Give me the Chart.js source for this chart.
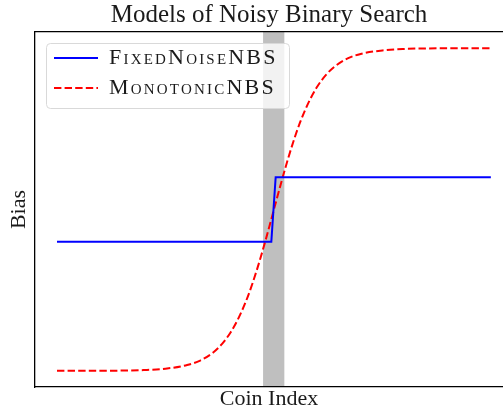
<!DOCTYPE html>
<html>
<head>
<meta charset="utf-8">
<script src="https://cdn.jsdelivr.net/npm/chart.js@4"></script>
<style>
  body { margin: 0; background: #fff; }
  canvas { display: block; }
</style>
</head>
<body>
<canvas id="nbs" width="503" height="410"></canvas>
<script>
// coin index / bias
const coinIdx = [0, 5, 10, 15, 20, 25, 30, 33, 36, 38, 40, 42, 44, 46, 48, 50,
                 52, 54, 56, 58, 60, 62, 64, 67, 70, 75, 80, 85, 90, 95, 100];
const monotonicBias = [0.0, 0.0001, 0.0003, 0.0009, 0.0025, 0.0067, 0.018, 0.032, 0.057, 0.083, 0.119, 0.168, 0.231, 0.31, 0.401, 0.5,
                       0.599, 0.69, 0.769, 0.832, 0.881, 0.917, 0.943, 0.968, 0.982, 0.993, 0.9975, 0.9991, 0.9997, 0.9999, 1.0];
const fixedIdx = [0, 49.4, 50.4, 100];
const fixedBias = [0.4, 0.4, 0.6, 0.6];
const noiseBand = [47.5, 52.4];
const seriesNames = ['FixedNoiseNBS', 'MonotonicNBS'];

const serif = "'Liberation Serif', 'DejaVu Serif', serif";
Chart.defaults.color = '#1a1a1a';

// grey band + legend frame, painted before the legend and lines
const bandPlugin = {
    id: 'bandPlugin',
    afterLayout(chart) {
        let a = chart.chartArea;
        let lg = chart.legend;
        lg.left = a.left + 11;
        lg.top = a.top + 7;
        if (!lg._spaced) {
            // small caps in the legend are set a bit wider
            let orig = lg.draw;
            lg.draw = function() {
                chart.ctx.letterSpacing = '2.2px';
                orig.apply(this, arguments);
                chart.ctx.letterSpacing = '0px';
            };
            lg._spaced = true;
        }
    },
    beforeDraw(chart) {
        let ctx = chart.ctx;
        let a = chart.chartArea;
        let xs = chart.scales.x;
        let x0 = xs.getPixelForValue(noiseBand[0]);
        let x1 = xs.getPixelForValue(noiseBand[1]);
        ctx.save();
        ctx.fillStyle = '#bfbfbf';
        ctx.fillRect(x0, a.top, x1 - x0, a.bottom - a.top);

        let bx = a.left + 11.5, by = a.top + 11.5, bw = 243, bh = 65, r = 4;
        ctx.beginPath();
        ctx.moveTo(bx + r, by);
        ctx.arcTo(bx + bw, by, bx + bw, by + bh, r);
        ctx.arcTo(bx + bw, by + bh, bx, by + bh, r);
        ctx.arcTo(bx, by + bh, bx, by, r);
        ctx.arcTo(bx, by, bx + bw, by, r);
        ctx.closePath();
        ctx.fillStyle = 'rgba(255,255,255,0.8)';
        ctx.fill();
        ctx.strokeStyle = '#d9d9d9';
        ctx.lineWidth = 1;
        ctx.stroke();
        ctx.restore();
    }
};

var ctx = document.getElementById('nbs').getContext('2d');
var chart = new Chart(ctx, {
    type: 'line',
    data: {
        datasets: [{
            label: seriesNames[0],
            data: fixedIdx.map((x, i) => ({x: x, y: fixedBias[i]})),
            borderColor: '#0000ff',
            backgroundColor: '#0000ff',
            borderWidth: 2,
            pointRadius: 0,
            tension: 0
        }, {
            label: seriesNames[1],
            data: coinIdx.map((x, i) => ({x: x, y: monotonicBias[i]})),
            borderColor: '#ff0000',
            backgroundColor: '#ff0000',
            borderWidth: 2,
            borderDash: [7.4, 3.2],
            pointRadius: 0,
            cubicInterpolationMode: 'monotone'
        }]
    },
    options: {
        responsive: false,
        animation: false,
        layout: { padding: 0 },
        plugins: {
            title: {
                display: true,
                fullSize: false,
                text: 'Models of Noisy Binary Search',
                font: { family: serif, size: 25, weight: 'normal', lineHeight: 1.1 },
                padding: { top: 2, bottom: 2.5 }
            },
            legend: {
                position: 'chartArea',
                align: 'start',
                labels: {
                    usePointStyle: true,
                    pointStyle: 'line',
                    pointStyleWidth: 44,
                    padding: 8,
                    font: { family: serif, size: 22, weight: 'small-caps' },
                    generateLabels(chart) {
                        let items = Chart.defaults.plugins.legend.labels.generateLabels(chart);
                        items.forEach((it) => {
                            it.lineDash = chart.data.datasets[it.datasetIndex].borderDash || [];
                        });
                        return items;
                    }
                }
            },
            tooltip: { enabled: false }
        },
        scales: {
            x: {
                type: 'linear',
                min: -5.07,
                max: 102.8,
                ticks: { display: false },
                grid: { display: false, drawTicks: false },
                border: { display: true, color: '#000', width: 1.3 },
                title: {
                    display: true,
                    text: 'Coin Index',
                    font: { family: serif, size: 22, lineHeight: 1 },
                    padding: { top: 1, bottom: 0 }
                }
            },
            xTop: {
                type: 'linear',
                position: 'top',
                min: -5.07,
                max: 102.8,
                ticks: { display: false },
                grid: { display: false, drawTicks: false },
                border: { display: true, color: '#000', width: 1.3 }
            },
            y: {
                min: -0.05,
                max: 1.05,
                ticks: { display: false },
                grid: { display: false, drawTicks: false },
                border: { display: true, color: '#000', width: 1.3 },
                title: {
                    display: true,
                    text: 'Bias',
                    font: { family: serif, size: 22, lineHeight: 1 },
                    padding: { top: 8, bottom: 5 }
                }
            }
        }
    },
    plugins: [bandPlugin]
});
</script>
</body>
</html>
